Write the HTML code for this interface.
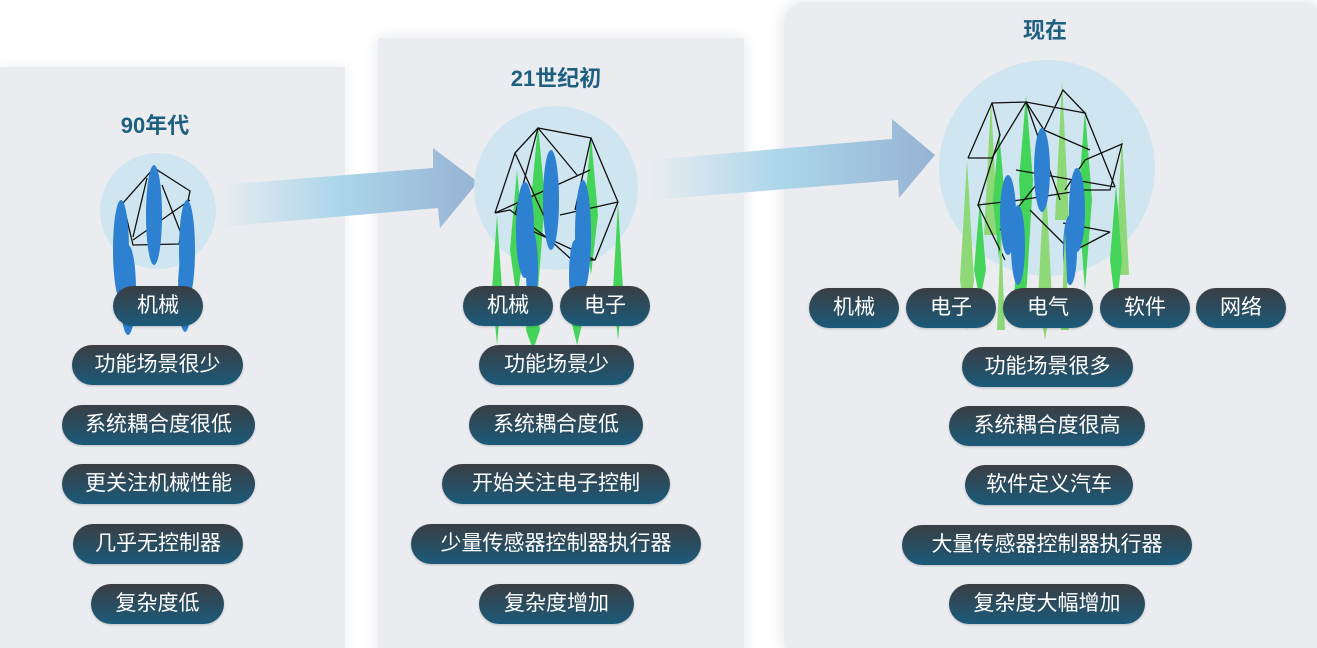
<!DOCTYPE html>
<html><head><meta charset="utf-8">
<style>
body{margin:0;width:1317px;height:648px;background:#fff;position:relative;overflow:hidden;font-family:"Liberation Sans","Noto Sans CJK SC",sans-serif}
.p{position:absolute;height:40px;border-radius:21px;background:linear-gradient(#3a3e43,#1b5a7a);color:#fff;font-size:21px;line-height:40px;text-align:center;box-shadow:0 1px 2px rgba(0,0,0,.2)}
.t{position:absolute;color:#1e5f80;font-size:22px;font-weight:bold;text-align:center;width:200px}
svg{position:absolute;left:0;top:0}
</style></head><body>
<svg width="1317" height="648">
<defs>
<linearGradient id="a1" x1="0" x2="1"><stop offset="0" stop-color="#eaecf0"/><stop offset="0.45" stop-color="#acd6ea"/><stop offset="1" stop-color="#96b3d3"/></linearGradient>
<filter id="bl"><feGaussianBlur stdDeviation="6"/></filter>
</defs>
<rect x="0" y="67" width="345" height="600" fill="#eaecf0" filter="url(#bl)"/>
<rect x="375" y="35" width="372" height="630" rx="12" fill="#eaecf0" filter="url(#bl)"/>
<rect x="780" y="0" width="550" height="660" rx="24" fill="#eaecf0" filter="url(#bl)"/>
<rect x="0" y="67" width="345" height="600" fill="#eaecf0"/>
<rect x="378" y="38" width="366" height="620" fill="#eaecf0"/>
<rect x="784" y="2" width="540" height="660" rx="22" fill="#eaecf0"/>
<polygon points="220,185 433,168 433,148 478,182 440,228 438,208 220,227" fill="url(#a1)"/>
<polygon points="650,160 892,139 892,119 935,155 899,198 898,180 650,200" fill="url(#a1)"/>
<circle cx="158" cy="211" r="58" fill="#cfe6f1"/>
<g stroke="#111" stroke-width="1.3" fill="none">
<polyline points="123,203 154,168 190,191 179,244 133,245 123,203"/>
<line x1="133" y1="237" x2="147" y2="178"/><line x1="133" y1="240" x2="190" y2="200"/><line x1="162" y1="185" x2="182" y2="236"/>
</g>
<g fill="#2e80d0">
<ellipse cx="154" cy="215" rx="8" ry="50"/><ellipse cx="121" cy="250" rx="8" ry="50"/><ellipse cx="187" cy="250" rx="8" ry="50"/><ellipse cx="128" cy="290" rx="8" ry="45"/><ellipse cx="185" cy="290" rx="7" ry="42"/>
</g>
<circle cx="556" cy="188" r="82" fill="#cfe6f1"/>
<g fill="#45d45a">
<polygon points="497,215 502,290 497,345 492,290"/><polygon points="517,170 524,250 517,300 510,250"/><polygon points="538,125 545,200 538,290 531,200"/><polygon points="591,136 598,215 591,275 584,215"/><polygon points="618,203 623,290 618,340 613,290"/><polygon points="533,275 540,330 533,350 526,330"/><polygon points="577,270 583,320 577,345 571,320"/>
</g>
<g stroke="#111" stroke-width="1.3" fill="none">
<polyline points="495,213 515,153 538,128 591,138 618,202 595,260 572,260 550,240 510,210 495,213"/>
<line x1="538" y1="128" x2="515" y2="215"/><line x1="538" y1="128" x2="577" y2="175"/><line x1="591" y1="138" x2="575" y2="210"/><line x1="618" y1="202" x2="560" y2="215"/><line x1="515" y1="153" x2="555" y2="240"/><line x1="495" y1="213" x2="590" y2="170"/><line x1="530" y1="230" x2="595" y2="260"/>
</g>
<g fill="#2e80d0">
<ellipse cx="525" cy="230" rx="9" ry="48"/><ellipse cx="551" cy="200" rx="8" ry="50"/><ellipse cx="583" cy="235" rx="8" ry="55"/><ellipse cx="532" cy="270" rx="6" ry="40"/><ellipse cx="575" cy="275" rx="6" ry="35"/>
</g>
<circle cx="1047" cy="168" r="108" fill="#cfe6f1"/>
<g fill="#8ed878">
<polygon points="967,160 974,280 967,330 960,280"/><polygon points="991,100 998,235 984,235"/><polygon points="1062,80 1069,220 1055,220"/><polygon points="1122,135 1129,275 1115,275"/><polygon points="1045,165 1052,300 1045,340 1038,300"/>
</g>
<g fill="#45d45a">
<polygon points="999,130 1005,200 999,260 993,200"/><polygon points="1026,95 1033,180 1026,300 1019,180"/><polygon points="1085,110 1092,200 1085,290 1078,200"/><polygon points="980,200 986,270 980,300 974,270"/><polygon points="1116,185 1122,260 1116,310 1110,260"/><polygon points="1020,200 1026,300 1014,300"/>
</g>
<g stroke="#111" stroke-width="1.3" fill="none">
<polyline points="968,158 992,103 1026,102 1085,113 1063,90 1044,130 1026,102 992,158 968,158"/>
<polyline points="992,103 1000,135 978,205 1020,200 1085,190 1110,190 1122,144 1085,160 1065,190"/>
<line x1="1085" y1="113" x2="1115" y2="187"/><line x1="1016" y1="170" x2="1115" y2="187"/><line x1="1026" y1="102" x2="1060" y2="200"/><line x1="1044" y1="130" x2="1090" y2="150"/><line x1="978" y1="205" x2="1005" y2="260"/><line x1="1063" y1="223" x2="1110" y2="232"/><line x1="1030" y1="210" x2="1070" y2="250"/><line x1="1070" y1="253" x2="1110" y2="232"/><line x1="1000" y1="230" x2="1040" y2="180"/>
</g>
<g fill="#2e80d0">
<ellipse cx="1008" cy="215" rx="8" ry="40"/><ellipse cx="1018" cy="245" rx="7" ry="40"/><ellipse cx="1042" cy="170" rx="8" ry="42"/><ellipse cx="1077" cy="210" rx="8" ry="42"/><ellipse cx="1070" cy="250" rx="7" ry="35"/>
</g>
<g fill="#8ed878"><polygon points="1001,230 1005,330 997,330"/><polygon points="1065,230 1069,330 1061,330"/></g>
</svg>
<div class="t" style="left:55px;top:108px">90年代</div>
<div class="t" style="left:456px;top:61px">21世纪初</div>
<div class="t" style="left:945px;top:13px">现在</div>

<div class="p" style="left:113px;top:286px;width:90px">机械</div>
<div class="p" style="left:72px;top:345px;width:171px">功能场景很少</div>
<div class="p" style="left:62px;top:405px;width:193px">系统耦合度很低</div>
<div class="p" style="left:62px;top:464px;width:193px">更关注机械性能</div>
<div class="p" style="left:73px;top:524px;width:170px">几乎无控制器</div>
<div class="p" style="left:91px;top:584px;width:133px">复杂度低</div>

<div class="p" style="left:463px;top:286px;width:90px">机械</div>
<div class="p" style="left:560px;top:286px;width:90px">电子</div>
<div class="p" style="left:479px;top:345px;width:155px">功能场景少</div>
<div class="p" style="left:469px;top:405px;width:174px">系统耦合度低</div>
<div class="p" style="left:442px;top:464px;width:228px">开始关注电子控制</div>
<div class="p" style="left:411px;top:524px;width:290px">少量传感器控制器执行器</div>
<div class="p" style="left:479px;top:584px;width:155px">复杂度增加</div>

<div class="p" style="left:809px;top:288px;width:90px">机械</div>
<div class="p" style="left:906px;top:288px;width:90px">电子</div>
<div class="p" style="left:1003px;top:288px;width:90px">电气</div>
<div class="p" style="left:1100px;top:288px;width:90px">软件</div>
<div class="p" style="left:1196px;top:288px;width:90px">网络</div>
<div class="p" style="left:962px;top:347px;width:171px">功能场景很多</div>
<div class="p" style="left:949px;top:406px;width:196px">系统耦合度很高</div>
<div class="p" style="left:965px;top:465px;width:168px">软件定义汽车</div>
<div class="p" style="left:902px;top:525px;width:290px">大量传感器控制器执行器</div>
<div class="p" style="left:949px;top:584px;width:196px">复杂度大幅增加</div>
</body></html>
